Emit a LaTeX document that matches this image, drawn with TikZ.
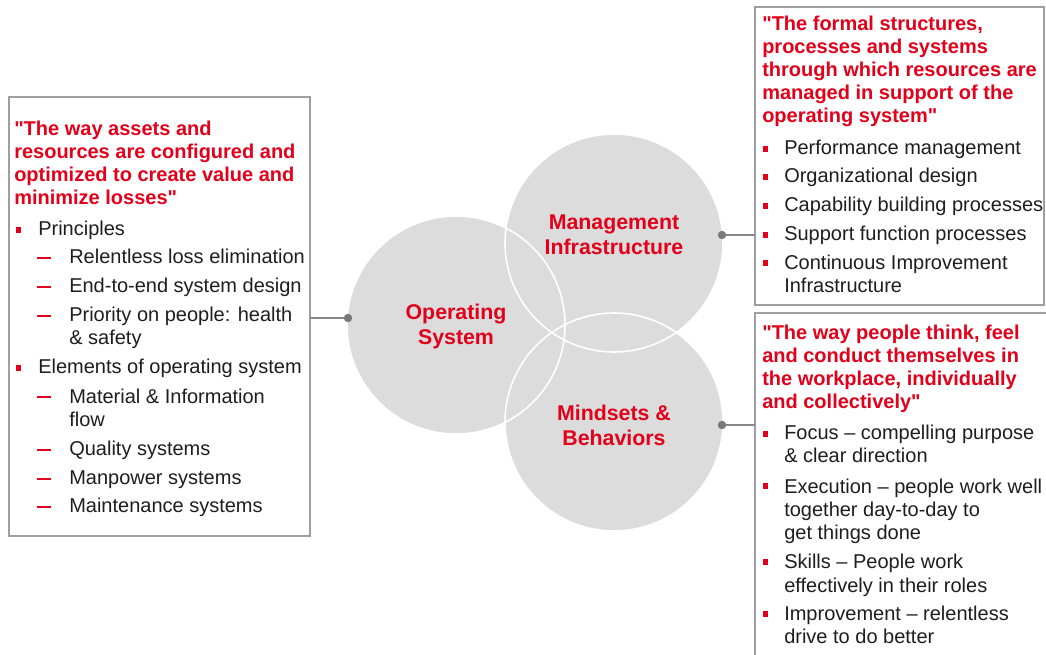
\documentclass[tikz,border=0pt]{standalone}
\usepackage{fontspec}
\setmainfont{Liberation Sans}
\newcommand\dq{\XeTeXglyph\XeTeXcharglyph"22\relax}
\definecolor{mred}{RGB}{226,0,26}
\definecolor{mfill}{RGB}{220,220,220}
\definecolor{mtext}{RGB}{30,30,30}
\definecolor{mline}{RGB}{135,135,135}
\tikzset{
  topic/.style={circle, fill=mfill, minimum size=163.5pt, inner sep=0pt},
  ring/.style={draw=white, line width=1.2pt},
  topiclabel/.style={text=mred, font=\fontsize{16}{18.75}\selectfont\bfseries, align=center, inner sep=0pt},
  quote/.style={text=mred, font=\fontsize{15}{17.25}\selectfont\bfseries, align=left, anchor=base west, inner sep=0pt},
  entry/.style={text=mtext, font=\fontsize{15}{17.25}\selectfont, align=left, anchor=base west, inner sep=0pt},
  panel/.style={draw=mline!80, line width=0.8pt},
  link/.style={draw=mline, line width=0.8pt},
  dot/.style={circle, fill=mline!90!black, minimum size=6.3pt, inner sep=0pt},
  sqmark/.style={fill=mred},
  dashmark/.style={draw=mred, line width=1.5pt}
}
\begin{document}
\begin{tikzpicture}[x=0.75pt,y=-0.75pt]
  \useasboundingbox[fill=white] (0,0) rectangle (1046,655);

  \node[topic] (os) at (456,325) {};
  \node[topic] (mi) at (614,243) {};
  \node[topic] (mb) at (614,422) {};
  \foreach \c in {os,mi,mb}
    \draw[ring] (\c) circle [radius=109];
  \node[topiclabel] (oslabel) at (456,326) {Operating\\System};
  \node[topiclabel] (milabel) at (614,235) {Management\\Infrastructure};
  \node[topiclabel] (mblabel) at (614,425) {Mindsets \&\\Behaviors};

  \draw[panel] (9,97) rectangle (310,536);
  \draw[panel] (755,7) rectangle (1044,305);
  \draw[panel] (755,313) rectangle (1070,670);

  \node[dot] (osdot) at (348,318) {};
  \node[dot] (midot) at (722,235) {};
  \node[dot] (mbdot) at (722,425) {};
  \coordinate (osbox) at (310,318);
  \coordinate (mibox) at (755,235);
  \coordinate (mbbox) at (755,425);
  \draw[link] (osbox) -- (osdot);
  \draw[link] (midot) -- (mibox);
  \draw[link] (mbdot) -- (mbbox);

  % base west = last line of the node
  \node[quote] (osquote) at (14,205) {\dq The way assets and\\resources are configured and\\optimized to create value and\\minimize losses\dq};
  \node[entry] (osprin) at (38,236) {Principles};
  \node[entry] (oselem) at (38,374) {Elements of operating system};
  \node[entry] (osloss) at (69,264) {Relentless loss elimination};
  \node[entry] (osend) at (69,293) {End-to-end system design};
  \node[entry] (ospeople) at (69,345) {Priority on people: health\\\& safety};
  \node[entry] (osflow) at (69,427) {Material \& Information\\flow};
  \node[entry] (osqual) at (69,456) {Quality systems};
  \node[entry] (osman) at (69,485) {Manpower systems};
  \node[entry] (osmaint) at (69,513) {Maintenance systems};
  \foreach \y in {236,374}
    \fill[sqmark] (16,\y-9) rectangle (21,\y-3);
  \foreach \y in {264,293,322,403,456,485,513}
    \draw[dashmark] (37,\y-6) -- (51,\y-6);

  \node[quote] (miquote) at (762,123) {\dq The formal structures,\\processes and systems\\through which resources are\\managed in support of the\\operating system\dq};
  \node[entry] (miperf) at (784,155) {Performance management};
  \node[entry] (miorg) at (784,183) {Organizational design};
  \node[entry] (micap) at (784,212) {Capability building processes};
  \node[entry] (misup) at (784,241) {Support function processes};
  \node[entry] (mici) at (784,293) {Continuous Improvement\\Infrastructure};
  \foreach \y in {155,183,212,241,269}
    \fill[sqmark] (763,\y-9) rectangle (768,\y-3);

  \node[quote] (mbquote) at (762,409) {\dq The way people think, feel\\and conduct themselves in\\the workplace, individually\\and collectively\dq};
  \node[entry] (mbfocus) at (784,463) {Focus – compelling purpose\\\& clear direction};
  \node[entry] (mbexec) at (784,540) {Execution – people work well\\together day-to-day to\\get things done};
  \node[entry] (mbskill) at (784,592) {Skills – People work\\effectively in their roles};
  \node[entry] (mbimpr) at (784,643) {Improvement – relentless\\drive to do better};
  \foreach \y in {440,492,568,620}
    \fill[sqmark] (763,\y-9) rectangle (768,\y-3);
\end{tikzpicture}
\end{document}
